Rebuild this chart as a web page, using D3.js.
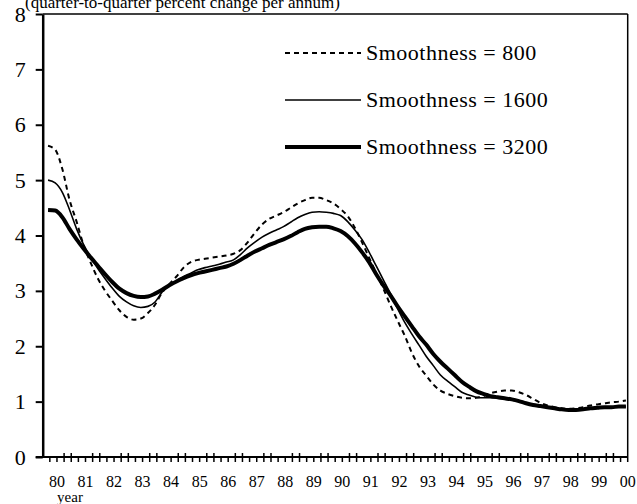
<!DOCTYPE html>
<html>
<head>
<meta charset="utf-8">
<script src="https://cdn.jsdelivr.net/npm/d3@7"></script>
<style>
  body { margin: 0; background: #fff; }
  svg { display: block; }
  svg text { font-family: "Liberation Serif", "DejaVu Serif", serif; fill: #000; }
</style>
</head>
<body>
<svg id="chart" width="637" height="504"></svg>
<script>
// Quarterly trend growth, 1980Q1 .. 2000Q2 (82 quarters)
const yearLabels = ['80', '81', '82', '83', '84', '85', '86', '87', '88', '89', '90',
  '91', '92', '93', '94', '95', '96', '97', '98', '99', '00']
const yTicks = [0, 1, 2, 3, 4, 5, 6, 7, 8]

const s800 = [5.62, 5.55, 5.2, 4.65, 4.25, 3.82, 3.5, 3.22, 3.0, 2.82,
  2.65, 2.53, 2.48, 2.5, 2.6, 2.75, 2.97, 3.12, 3.26, 3.42,
  3.52, 3.56, 3.58, 3.6, 3.62, 3.64, 3.67, 3.74, 3.88, 4.05,
  4.2, 4.3, 4.36, 4.42, 4.5, 4.58, 4.64, 4.68, 4.68, 4.64,
  4.58, 4.48, 4.35, 4.14, 3.88, 3.6, 3.32, 3.04, 2.74, 2.46,
  2.19, 1.88, 1.64, 1.47, 1.31, 1.2, 1.14, 1.1, 1.07, 1.06,
  1.07, 1.1, 1.15, 1.18, 1.2, 1.2, 1.17, 1.12, 1.05, 0.98,
  0.93, 0.9, 0.88, 0.87, 0.88, 0.9, 0.93, 0.95, 0.97, 0.99,
  1.0, 1.02]
const s1600 = [5.0, 4.95, 4.78, 4.47, 4.12, 3.83, 3.6, 3.4, 3.22, 3.05,
  2.9, 2.8, 2.73, 2.7, 2.72, 2.8, 2.98, 3.1, 3.18, 3.26,
  3.32, 3.38, 3.42, 3.45, 3.48, 3.52, 3.56, 3.66, 3.78, 3.88,
  3.97, 4.04, 4.1, 4.16, 4.24, 4.32, 4.38, 4.42, 4.43, 4.42,
  4.4, 4.36, 4.25, 4.1, 3.93, 3.7, 3.45, 3.2, 2.95, 2.68,
  2.43, 2.22, 2.02, 1.82, 1.65, 1.48, 1.37, 1.27, 1.17, 1.12,
  1.08, 1.07, 1.07, 1.06, 1.05, 1.03, 1.0, 0.97, 0.94, 0.92,
  0.9, 0.88, 0.86, 0.85, 0.85, 0.86, 0.87, 0.88, 0.89, 0.9,
  0.9, 0.91]
const s3200 = [4.46, 4.45, 4.33, 4.12, 3.93, 3.76, 3.6, 3.45, 3.3, 3.16,
  3.04, 2.96, 2.91, 2.89, 2.9, 2.95, 3.02, 3.1, 3.17, 3.23,
  3.28, 3.32, 3.35, 3.38, 3.41, 3.44, 3.49, 3.56, 3.64, 3.71,
  3.77, 3.83, 3.88, 3.93, 3.99, 4.06, 4.12, 4.15, 4.16, 4.16,
  4.13, 4.08, 3.99, 3.86, 3.7, 3.52, 3.3, 3.1, 2.92, 2.72,
  2.54, 2.36, 2.18, 2.03, 1.86, 1.72, 1.6, 1.48, 1.36, 1.27,
  1.19, 1.14, 1.1, 1.08, 1.06, 1.04, 1.01, 0.97, 0.94, 0.92,
  0.9, 0.88, 0.86, 0.85, 0.85, 0.86, 0.88, 0.89, 0.9, 0.9,
  0.91, 0.91]

const series = [
  {name: 'Smoothness = 800', values: s800, width: 2, dash: '5,4'},
  {name: 'Smoothness = 1600', values: s1600, width: 1.6, dash: null},
  {name: 'Smoothness = 3200', values: s3200, width: 4, dash: null}
]

const svg = d3.select('#chart')
const m = {left: 42.7, right: 627.7, top: 14, bottom: 457}
const serif = '"Liberation Serif", "DejaVu Serif", serif'

// x in quarter units: axis spans 82 quarters, points sit 3/4 into each quarter
const x = d3.scaleLinear().domain([0, 82]).range([m.left, m.right])
const y = d3.scaleLinear().domain([0, 8]).range([m.bottom, m.top])

// title, cut off by the top edge like the original
svg.append('text')
  .attr('x', 25).attr('y', 8)
  .attr('font-family', serif)
  .attr('font-size', 17)
  .text('(quarter-to-quarter percent change per annum)')

// frame top and right
svg.append('line').attr('x1', m.left).attr('x2', m.right).attr('y1', m.top).attr('y2', m.top)
  .attr('stroke', '#000').attr('stroke-width', 1.5)
svg.append('line').attr('x1', m.right).attr('x2', m.right).attr('y1', m.top).attr('y2', m.bottom)
  .attr('stroke', '#000').attr('stroke-width', 1.5)

// y axis
const yAxis = svg.append('g').attr('transform', `translate(${m.left},0)`)
  .call(d3.axisLeft(y).tickValues(yTicks).tickSize(7).tickPadding(10).tickSizeOuter(0))
yAxis.attr('font-family', serif)
yAxis.select('.domain').attr('stroke-width', 2.5)
yAxis.selectAll('.tick line').attr('stroke-width', 2)
yAxis.selectAll('.tick text').attr('font-size', 22).attr('font-family', serif)

// x axis: quarterly ticks, taller ones around each year boundary
const xAxis = svg.append('g').attr('transform', `translate(0,${m.bottom})`)
xAxis.append('line').attr('x1', m.left - 7).attr('x2', m.right).attr('stroke', '#000').attr('stroke-width', 2)
xAxis.selectAll('.qtick').data(d3.range(1, 83)).join('line')
  .attr('x1', d => x(d)).attr('x2', d => x(d))
  .attr('y1', d => (d % 4 === 0 || d % 4 === 3) ? -4 : 0)
  .attr('y2', 5)
  .attr('stroke', '#000').attr('stroke-width', 1.5)
xAxis.selectAll('.ylab').data(yearLabels).join('text')
  .attr('x', (d, i) => x(i * 4 + 2))
  .attr('y', 30)
  .attr('text-anchor', 'middle')
  .attr('font-family', serif)
  .attr('font-size', 16)
  .text(d => d)
xAxis.append('text').attr('x', 70).attr('y', 45).attr('text-anchor', 'middle')
  .attr('font-family', serif)
  .attr('font-size', 15).text('year')

// lines
const line = d3.line()
  .x((d, i) => x(i + 0.75))
  .y(d => y(d))
  .curve(d3.curveMonotoneX)

svg.selectAll('.series').data(series).join('path')
  .attr('fill', 'none')
  .attr('stroke', '#000')
  .attr('stroke-width', d => d.width)
  .attr('stroke-dasharray', d => d.dash)
  .attr('d', d => line(d.values))

// legend
const legend = svg.append('g')
const legY = [53, 100, 147]
legend.selectAll('line').data(series).join('line')
  .attr('x1', 285).attr('x2', 361)
  .attr('y1', (d, i) => legY[i]).attr('y2', (d, i) => legY[i])
  .attr('stroke', '#000')
  .attr('stroke-width', d => d.width)
  .attr('stroke-dasharray', d => d.dash)
legend.selectAll('text').data(series).join('text')
  .attr('x', 366).attr('y', (d, i) => legY[i] + 7)
  .attr('font-family', serif)
  .attr('font-size', 22)
  .attr('letter-spacing', 0.5)
  .text(d => d.name)
</script>
</body>
</html>
